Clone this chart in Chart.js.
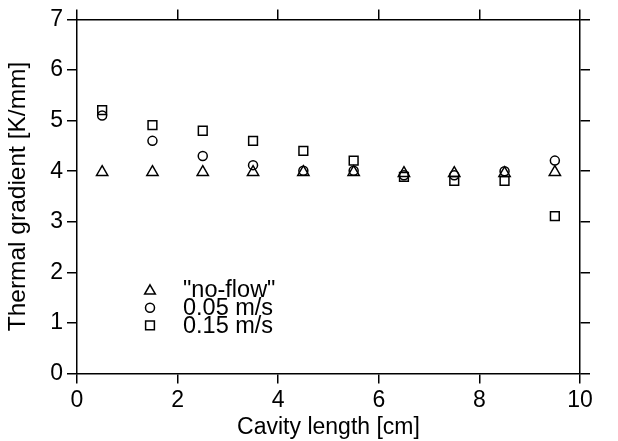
<!DOCTYPE html>
<html><head><meta charset="utf-8">
<script src="https://cdn.jsdelivr.net/npm/chart.js@4/dist/chart.umd.min.js"></script>
<style>html,body{margin:0;padding:0;background:#fff;overflow:hidden}</style>
</head><body>
<canvas id="c" width="618" height="441"></canvas>
<script>
const cavityLength = [0.5, 1.5, 2.5, 3.5, 4.5, 5.5, 6.5, 7.5, 8.5, 9.5];
const noFlow  = [3.98, 3.98, 3.98, 3.98, 3.98, 3.98, 3.96, 3.96, 3.96, 3.98];
const flow005 = [5.10, 4.60, 4.30, 4.12, 4.01, 4.01, 3.92, 3.92, 4.00, 4.21];
const flow015 = [5.21, 4.91, 4.80, 4.60, 4.40, 4.21, 3.89, 3.81, 3.81, 3.11];
const seriesLabels = ['"no-flow"', '0.05 m/s', '0.15 m/s'];
const seriesShapes = ['triangle', 'circle', 'rect'];
const seriesRadius = [6.5, 4.5, 6.2];
const xTitle = 'Cavity length [cm]';
const yTitle = 'Thermal gradient [K/mm]';

const FONT = "'Liberation Sans', Arial, Helvetica, sans-serif";
const toPts = ys => cavityLength.map((x, i) => ({x: x, y: ys[i]}));
const allSeries = [noFlow, flow005, flow015];

const datasets = allSeries.map((ys, i) => ({
  label: seriesLabels[i],
  data: toPts(ys),
  pointStyle: seriesShapes[i],
  pointRadius: seriesRadius[i],
  pointHoverRadius: seriesRadius[i],
  pointBorderWidth: 1.5,
  borderColor: '#000',
  backgroundColor: 'rgba(0,0,0,0)',
  pointBackgroundColor: 'rgba(0,0,0,0)',
  showLine: false
}));

function drawMarker(ctx, shape, r, x, y) {
  ctx.beginPath();
  if (shape === 'triangle') {
    for (let k = 0; k < 3; k++) {
      const a = k * 2 * Math.PI / 3;
      const px = x + Math.sin(a) * r, py = y - Math.cos(a) * r;
      if (k === 0) ctx.moveTo(px, py); else ctx.lineTo(px, py);
    }
    ctx.closePath();
  } else if (shape === 'circle') {
    ctx.arc(x, y, r, 0, Math.PI * 2);
  } else {
    const s = r * Math.SQRT1_2;
    ctx.rect(x - s, y - s, 2 * s, 2 * s);
  }
  ctx.stroke();
}

const legendPlugin = {
  id: 'innerLegend',
  afterDatasetsDraw(chart) {
    const ctx = chart.ctx;
    ctx.save();
    ctx.strokeStyle = '#000';
    ctx.lineWidth = 1.5;
    ctx.fillStyle = '#000';
    ctx.font = '23.5px ' + FONT;
    ctx.textBaseline = 'middle';
    ctx.textAlign = 'left';
    seriesLabels.forEach((lab, i) => {
      const y = 290 + 17.7 * i;
      drawMarker(ctx, seriesShapes[i], seriesRadius[i] * (i === 0 ? 0.95 : 1), 150, y + (i === 0 ? 1 : 0));
      ctx.fillText(lab, 183, y + 1);
    });
    ctx.restore();
  }
};

const axisCommon = {
  type: 'linear',
  grid: { drawOnChartArea: false, drawTicks: true, tickLength: 10, color: '#000', lineWidth: 1.5 },
  border: { display: true, color: '#000', width: 1.5 }
};

new Chart(document.getElementById('c'), {
  type: 'scatter',
  data: { datasets },
  options: {
    responsive: false,
    animation: false,
    layout: { padding: 0 },
    plugins: { legend: { display: false }, tooltip: { enabled: false } },
    scales: {
      x: Object.assign({}, axisCommon, {
        position: 'bottom', min: 0, max: 10,
        ticks: { stepSize: 2, color: '#000', font: { family: FONT, size: 23 }, padding: 3, maxRotation: 0 },
        title: { display: true, text: xTitle, color: '#000', font: { family: FONT, size: 23 }, padding: { top: 0, bottom: 0 } },
        afterFit: s => { s.height = 67.5; }
      }),
      x2: Object.assign({}, axisCommon, {
        position: 'top', min: 0, max: 10,
        ticks: { stepSize: 2, display: false },
        afterFit: s => { s.height = 19.5; }
      }),
      y: Object.assign({}, axisCommon, {
        position: 'left', min: 0, max: 7,
        ticks: { stepSize: 1, color: '#000', font: { family: FONT, size: 23 }, padding: 4 },
        title: { display: true, text: yTitle, color: '#000', font: { family: FONT, size: 24.5 }, padding: { top: 4, bottom: 0 } },
        afterFit: s => { s.width = 77; }
      }),
      y2: Object.assign({}, axisCommon, {
        position: 'right', min: 0, max: 7,
        ticks: { stepSize: 1, display: false },
        afterFit: s => { s.width = 38; }
      })
    }
  },
  plugins: [legendPlugin]
});
</script>
</body></html>
